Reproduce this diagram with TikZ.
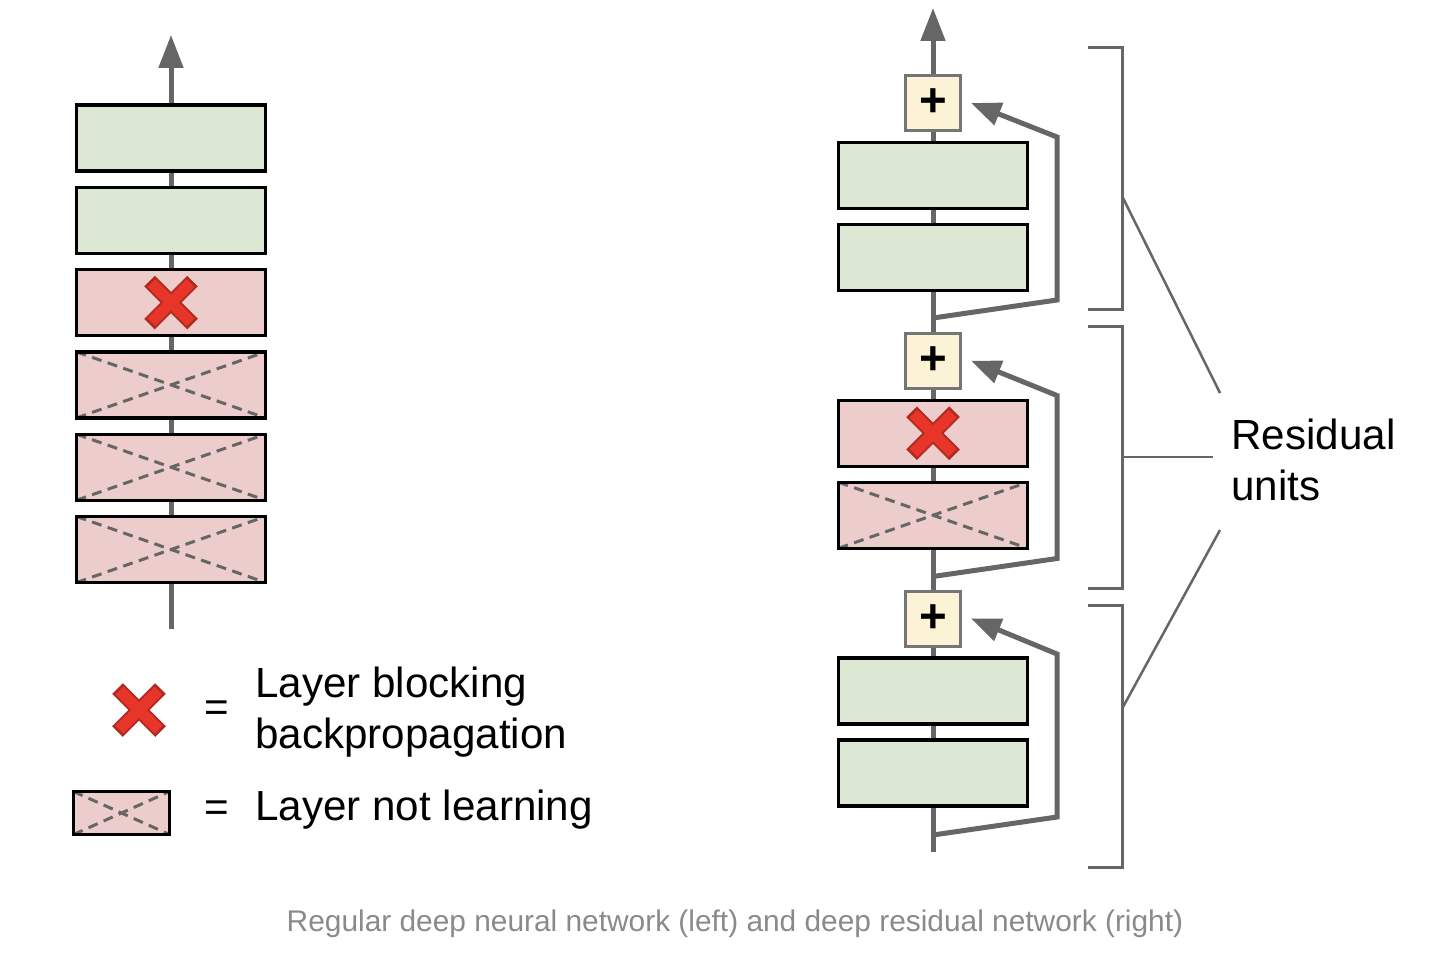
\documentclass[tikz,border=0pt]{standalone}
\usepackage{fontspec}
\setmainfont{Liberation Sans}
\usetikzlibrary{arrows.meta,calc}
\newcommand*{\px}{0.02cm}
\definecolor{livegreen}{HTML}{DCE7D4}
\definecolor{deadpink}{HTML}{ECCDCC}
\definecolor{sumyellow}{HTML}{FCF2D6}
\definecolor{wire}{HTML}{666666}
\definecolor{crossred}{HTML}{E8352A}
\definecolor{crossedge}{HTML}{B02A20}
\definecolor{captiongray}{HTML}{8A8A8A}
\tikzset{
	layer/.style={
		rectangle,
		minimum width = 189*\px,
		minimum height = 66*\px,
		fill = #1,
		draw = black,
		line width = 3.4*\px,
		},
	live/.style={layer=livegreen},
	blocked/.style={layer=deadpink},
	dead/.style={
		layer=deadpink,
		path picture={
			\draw [wire, line width=3*\px, dash pattern=on 0.2cm off 0.13cm]
				(path picture bounding box.north west) -- (path picture bounding box.south east)
				(path picture bounding box.south west) -- (path picture bounding box.north east);
			},
		},
	sum/.style={
		rectangle,
		minimum size = 55*\px,
		fill = sumyellow,
		draw = wire!90,
		line width = 3*\px,
		font = \fontsize{27}{27}\selectfont\bfseries,
		},
	wire/.style={draw=wire, line width=5*\px},
	upward/.style={wire, -{Triangle[length=0.66cm,width=0.48cm]}},
	skip/.style={wire, line join=miter, -{Triangle[length=0.6cm,width=0.46cm]}},
	bracket/.style={draw=wire, line width=3*\px},
	leader/.style={draw=wire, line width=2.5*\px},
	redcross/.pic={
		\draw [crossedge, line width=15*\px] (-21.5,-21.5) -- (21.5,21.5) (-21.5,21.5) -- (21.5,-21.5);
		\draw [crossred,  line width=11*\px] (-19.5,-19.5) -- (19.5,19.5) (-19.5,19.5) -- (19.5,-19.5);
		}
	}
\begin{document}
\begin{tikzpicture}[x=\px, y=-\px, font=\fontsize{24}{28.5}\selectfont]
	\useasboundingbox (0,0) rectangle (1438,954);

	% regular deep network (left)
	\coordinate (lbot) at (171,629);
	\coordinate (ltop) at (171,35);
	\foreach \i/\sty in {1/live,2/live,3/blocked,4/dead,5/dead,6/dead} {
		\node (l\i) [\sty] at (171,{55.7+82.3*\i}) {};
	};
	\pic at (l3) {redcross};
	\draw [wire] (lbot) -- (l6.south);
	\foreach \i/\j in {6/5,5/4,4/3,3/2,2/1} {
		\draw [wire] (l\i.north) -- (l\j.south);
	};
	\draw [upward] (l1.north) -- (ltop);

	% deep residual network (right)
	\coordinate (rbot) at (933,852);
	\coordinate (rtop) at (933,8);
	\foreach \u/\a/\b in {1/live/live,2/blocked/dead,3/live/live} {
		\node (p\u)  [sum] at (933,{103+257.75*(\u-1)}) {+};
		\node (ra\u) [\a]  at (933,{175.5+257.75*(\u-1)}) {};
		\node (rb\u) [\b]  at (933,{257.5+257.75*(\u-1)}) {};
		\coordinate (j\u) at (933,{318+258.5*(\u-1)});
		\draw [wire] (rb\u.north) -- (ra\u.south);
		\draw [wire] (ra\u.north) -- (p\u.south);
	};
	\pic at (ra2) {redcross};
	\draw [wire] (rbot) -- (rb3.south);
	\draw [wire] (p3.north) -- (rb2.south);
	\draw [wire] (p2.north) -- (rb1.south);
	\draw [upward] (p1.north) -- (rtop);
	\foreach \u in {1,2,3} {
		\draw [skip] (j\u) -- ++(124,-18) -- ++(0,-163) -- ($(p\u.east)+(9,0)$);
	};

	% brackets round the residual units
	\foreach \t/\b in {47/309,326/588,605/867} {
		\draw [bracket] (1088,\t) -| (1122,\b) -- (1088,\b);
	};
	\node (resid) [anchor=base west, align=left, inner sep=0pt] at (1231,500) {Residual\\units};
	\coordinate (u1) at (1123,198);
	\coordinate (u2) at (1123,457);
	\coordinate (u3) at (1123,707);
	\coordinate (e1) at (1220,393);
	\coordinate (e2) at (1213,457);
	\coordinate (e3) at (1220,530);
	\foreach \k in {1,2,3} {
		\draw [leader] (u\k) -- (e\k);
	};

	% legend
	\pic at (139,710) {redcross};
	\node (eq1) at (217,711) {=};
	\node (txt1) [anchor=base west, align=left, inner sep=0pt] at (255,748) {Layer blocking\\backpropagation};
	\node (key) [dead, minimum width=96*\px, minimum height=43*\px] at (121.5,813) {};
	\node (eq2) at (217,811) {=};
	\node (txt2) [anchor=base west, inner sep=0pt] at (255,820) {Layer not learning};

	% caption
	\node (caption) [font=\fontsize{17}{20}\selectfont, text=captiongray] at (735,924)
		{Regular deep neural network (left) and deep residual network (right)};
\end{tikzpicture}
\end{document}
